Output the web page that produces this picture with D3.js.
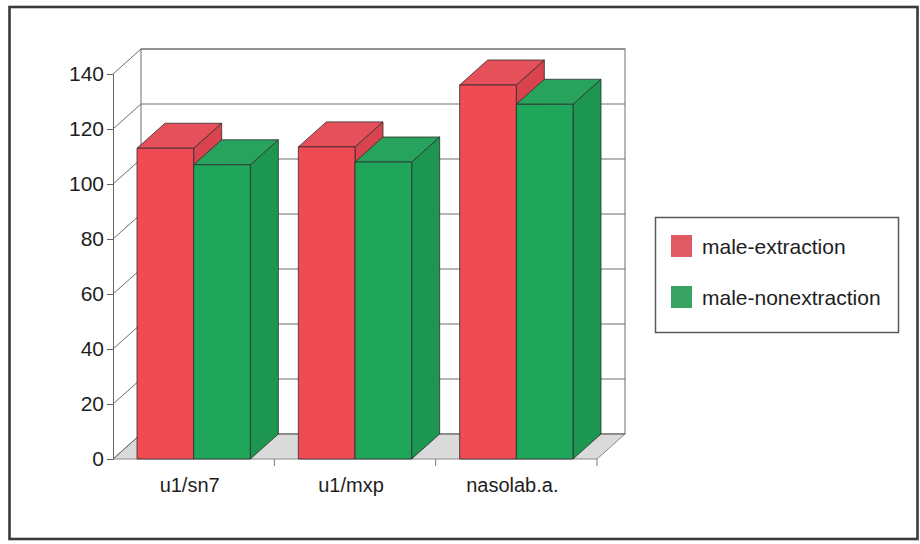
<!DOCTYPE html>
<html>
<head>
<meta charset="utf-8">
<script src="https://cdn.jsdelivr.net/npm/d3@7"></script>
<style>
  html, body { margin: 0; padding: 0; background: #fff; }
  svg { display: block; font-family: "Liberation Sans", Arial, sans-serif; }
</style>
</head>
<body>
<svg id="chart" width="920" height="544"></svg>
<script>
// Categories, series and values
const categories = ["u1/sn7", "u1/mxp", "nasolab.a."];
const seriesNames = ["male-extraction", "male-nonextraction"];
const maleExtraction = [113, 113.5, 136];
const maleNonextraction = [107, 108, 129];
const yTicks = [0, 20, 40, 60, 80, 100, 120, 140];

const seriesValues = [maleExtraction, maleNonextraction];
const faces = [
  { front: "#f04b55", top: "#e5505a", side: "#d8434d", legend: "#e05a64" },
  { front: "#1fa65a", top: "#28a35e", side: "#1c9650", legend: "#39a363" }
];

const svg = d3.select("#chart");

// Front plane of the 3-D box and the depth offset to the back wall
const x0 = 113, x1 = 597;
const depthX = 28, depthY = -25;

const y = d3.scaleLinear().domain([0, 140]).range([459, 74]);
const xBand = d3.scaleBand().domain(categories).range([x0, x1]).padding(0);
const xSeries = d3.scaleBand().domain(seriesNames)
  .range([24, xBand.bandwidth() - 24]).padding(0);

const gridColor = "#6e6e6e";

// Outer frame
svg.append("rect")
  .attr("x", 9.5).attr("y", 7).attr("width", 908).attr("height", 532)
  .attr("fill", "none").attr("stroke", "#3a3a3a").attr("stroke-width", 2.6);

const walls = svg.append("g");

// Back wall
walls.append("rect")
  .attr("x", x0 + depthX).attr("y", y(140) + depthY)
  .attr("width", x1 - x0).attr("height", y(0) - y(140))
  .attr("fill", "#fff").attr("stroke", gridColor).attr("stroke-width", 1);

// Floor
const floorPts = [
  [x0, y(0)], [x1, y(0)], [x1 + depthX, y(0) + depthY], [x0 + depthX, y(0) + depthY]
];
walls.append("polygon")
  .attr("points", floorPts.map(p => p.join(",")).join(" "))
  .attr("fill", "#dadada").attr("stroke", "#8a8a8a").attr("stroke-width", 1);

// Gridlines on the back wall and their diagonals across the side wall
yTicks.forEach(t => {
  walls.append("line")
    .attr("x1", x0 + depthX).attr("x2", x1 + depthX)
    .attr("y1", y(t) + depthY).attr("y2", y(t) + depthY)
    .attr("stroke", gridColor).attr("stroke-width", 1);
  walls.append("line")
    .attr("x1", x0).attr("y1", y(t))
    .attr("x2", x0 + depthX).attr("y2", y(t) + depthY)
    .attr("stroke", gridColor).attr("stroke-width", 1);
});

// Category boundary ticks below the floor
xBand.domain().forEach((c, i) => {
  const xt = xBand(c) + xBand.bandwidth();
  walls.append("line")
    .attr("x1", xt).attr("x2", xt).attr("y1", y(0)).attr("y2", y(0) + 7)
    .attr("stroke", "#777").attr("stroke-width", 1);
});

// Bars, drawn back-to-front / left-to-right so nearer faces overlap
const bars = svg.append("g");
categories.forEach((c, ci) => {
  seriesNames.forEach((s, si) => {
    const v = seriesValues[si][ci];
    const col = faces[si];
    const bx = xBand(c) + xSeries(s);
    const bw = xSeries.bandwidth();
    const top = y(v), base = y(0);
    const g = bars.append("g")
      .attr("stroke", "#2d2d2d").attr("stroke-width", 0.8).attr("stroke-linejoin", "round");
    // side face
    g.append("polygon")
      .attr("points", [
        [bx + bw, top], [bx + bw + depthX, top + depthY],
        [bx + bw + depthX, base + depthY], [bx + bw, base]
      ].map(p => p.join(",")).join(" "))
      .attr("fill", col.side);
    // top face
    g.append("polygon")
      .attr("points", [
        [bx, top], [bx + depthX, top + depthY],
        [bx + bw + depthX, top + depthY], [bx + bw, top]
      ].map(p => p.join(",")).join(" "))
      .attr("fill", col.top);
    // front face
    g.append("rect")
      .attr("x", bx).attr("y", top).attr("width", bw).attr("height", base - top)
      .attr("fill", col.front);
  });
});

// Value axis on the front plane
const yAxis = d3.axisLeft(y).tickValues(yTicks).tickSize(6).tickPadding(3);
const yg = svg.append("g").attr("transform", `translate(${x0},0)`).call(yAxis);
yg.select(".domain").attr("stroke", "#666");
yg.selectAll(".tick line").attr("stroke", "#666");
yg.selectAll(".tick text")
  .attr("font-family", "'Liberation Sans', Arial, sans-serif")
  .attr("font-size", 21).attr("fill", "#1e1e1e");

// Category labels
svg.append("g").selectAll("text").data(categories).join("text")
  .attr("x", d => xBand(d) + xBand.bandwidth() / 2 - 4)
  .attr("y", 492)
  .attr("text-anchor", "middle")
  .attr("font-size", 20).attr("fill", "#1e1e1e")
  .text(d => d);

// Legend
const legend = svg.append("g");
legend.append("rect")
  .attr("x", 655.5).attr("y", 217.5).attr("width", 243).attr("height", 115)
  .attr("fill", "#fff").attr("stroke", "#5a5a5a").attr("stroke-width", 1.5);
seriesNames.forEach((s, i) => {
  const ly = 235 + i * 51;
  legend.append("rect")
    .attr("x", 671).attr("y", ly).attr("width", 21).attr("height", 22)
    .attr("fill", faces[i].legend);
  legend.append("text")
    .attr("x", 702).attr("y", ly + 19)
    .attr("font-size", 21).attr("fill", "#1e1e1e")
    .text(s);
});
</script>
</body>
</html>
